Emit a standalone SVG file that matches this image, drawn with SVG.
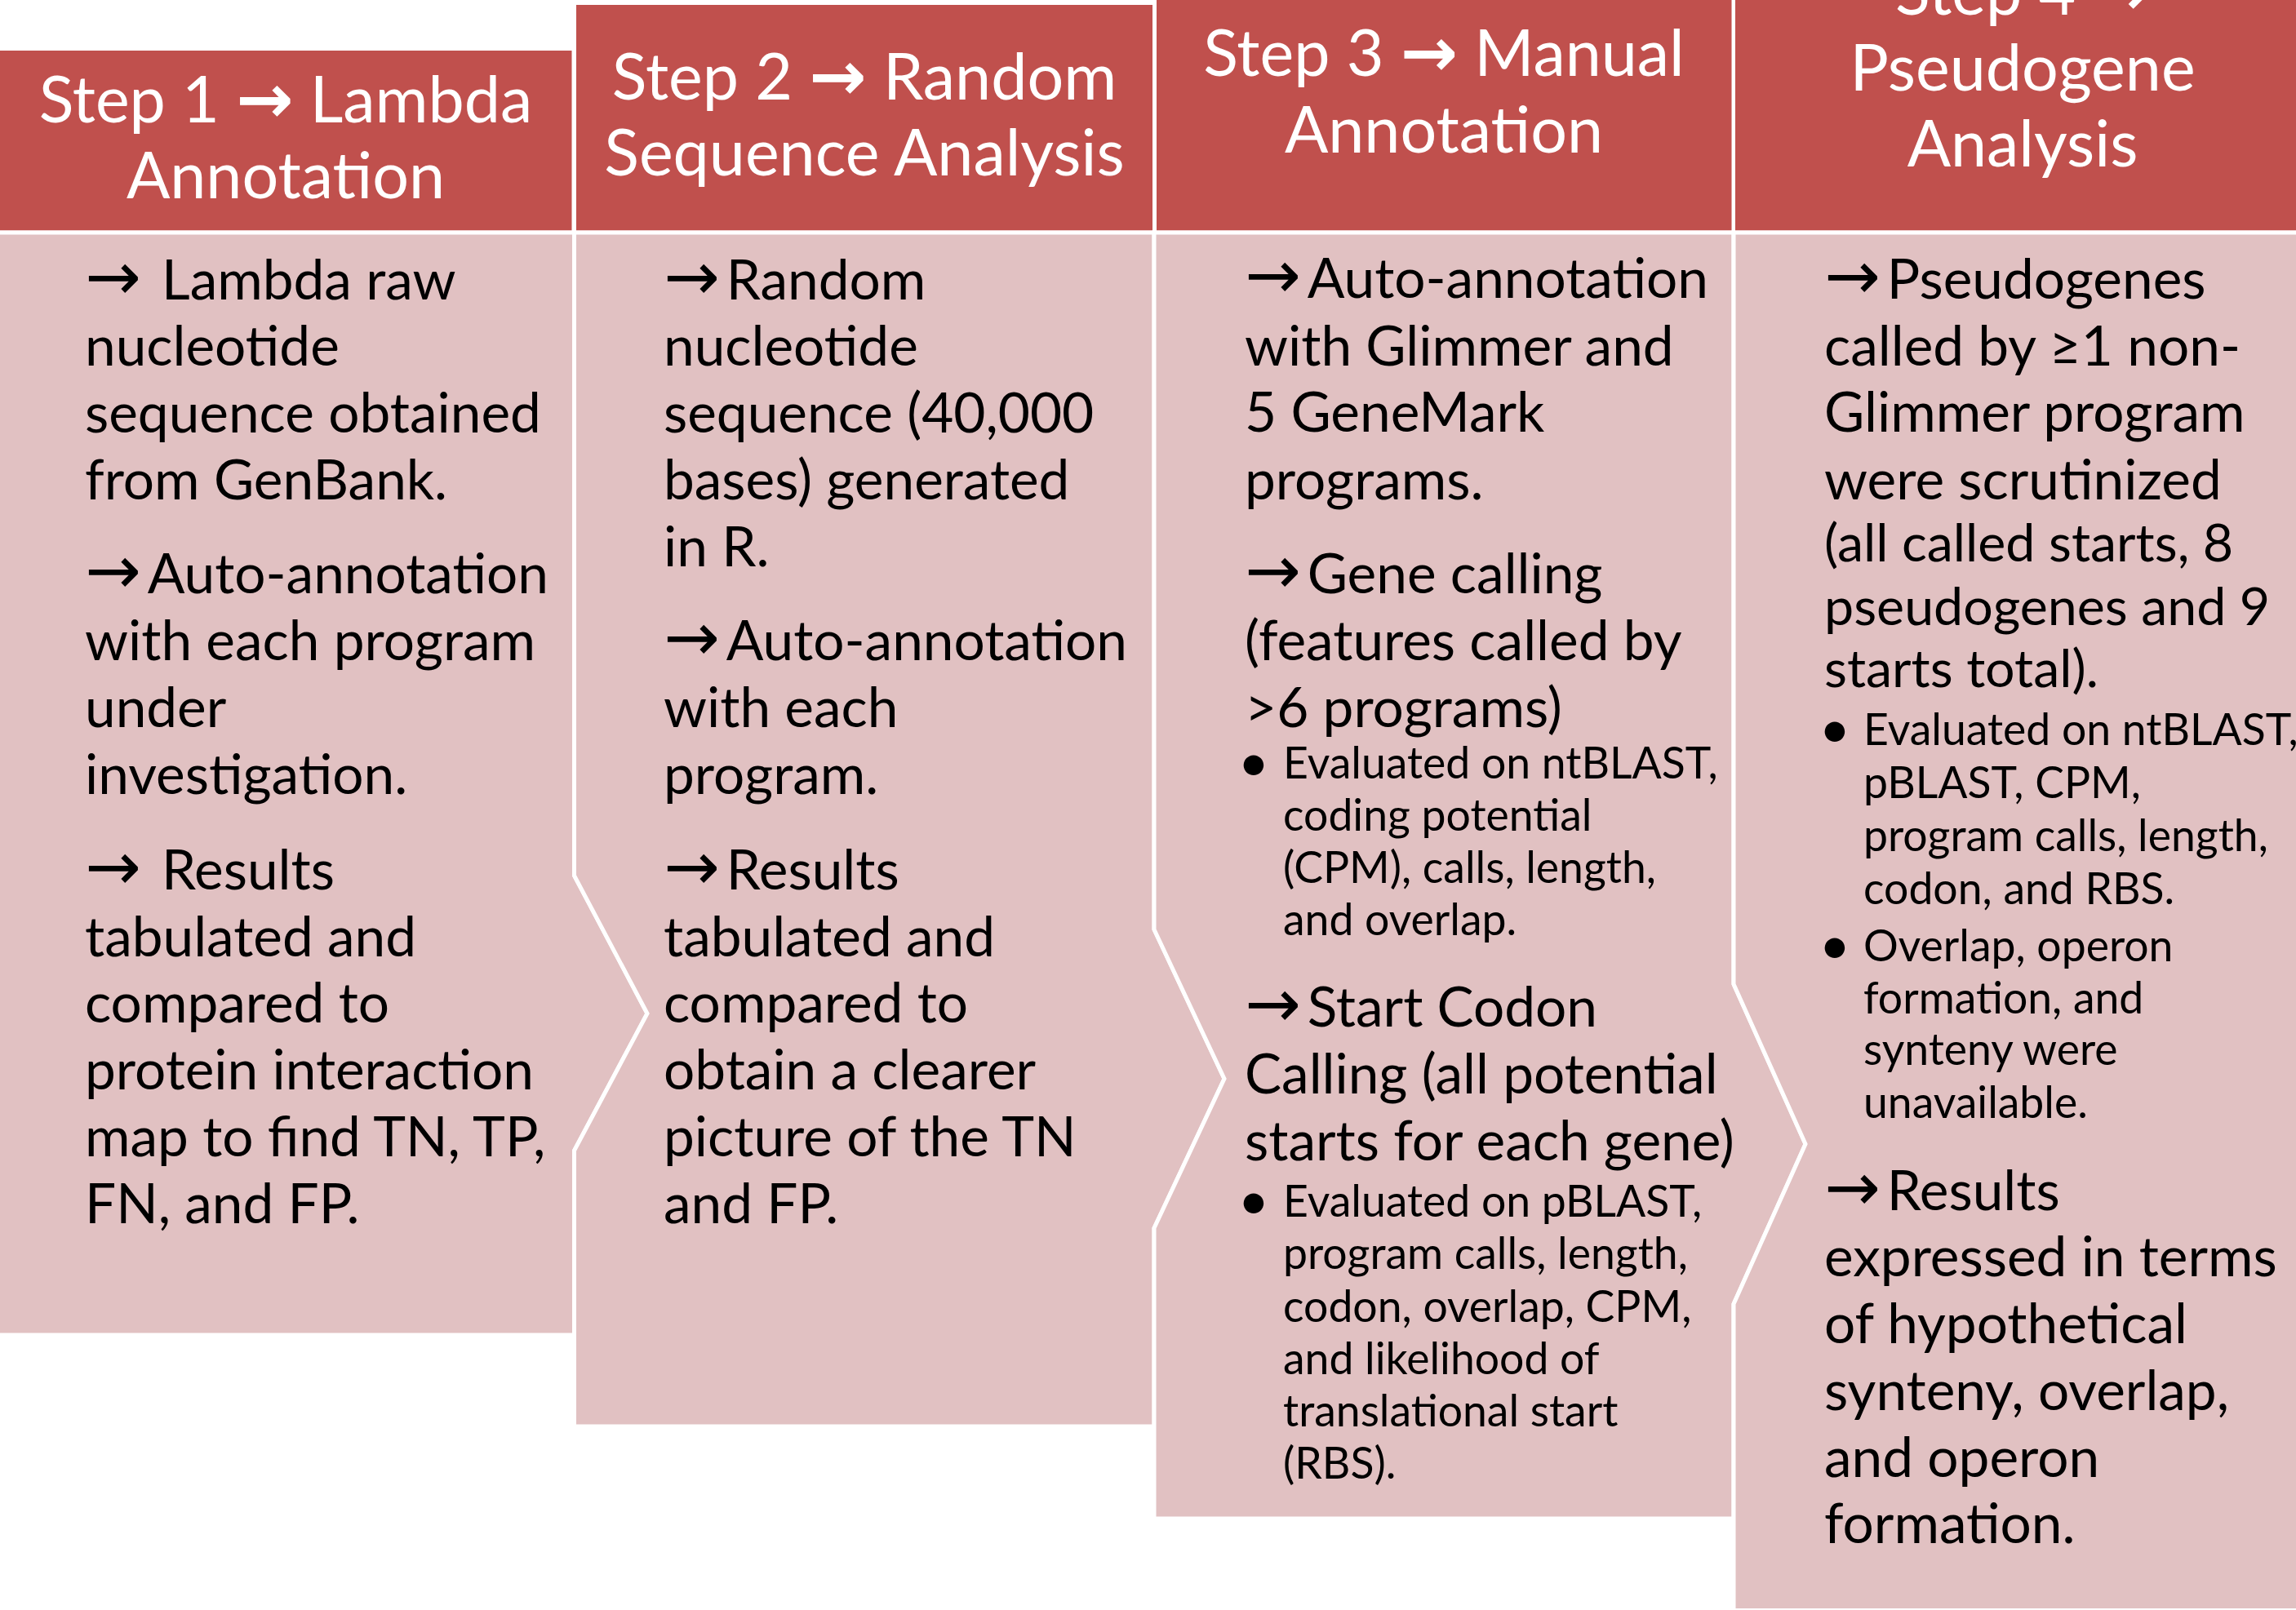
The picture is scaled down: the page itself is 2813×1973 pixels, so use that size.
<svg xmlns="http://www.w3.org/2000/svg" width="2813" height="1973" viewBox="0 0 2813 1973">
<style>
.hdr{fill:#C0504D}
.pan{fill:#E1C1C2;stroke:#FFFFFF;stroke-width:5;stroke-linejoin:miter}
.ht{font-family:Lato,'Liberation Sans',sans-serif;font-size:79px;fill:#FFFFFF;text-anchor:middle}
.ha{font-family:'DejaVu Sans',sans-serif;font-weight:bold;font-size:84px}
.t{font-family:Lato,'Liberation Sans',sans-serif;font-size:67.5px;fill:#000000}
.s{font-size:53.5px}
.m{font-size:64.5px}
.ar{font-family:'DejaVu Sans',sans-serif;font-size:82px;letter-spacing:8px}
.bu{font-family:Lato,'Liberation Sans',sans-serif;font-size:66px;fill:#000000;text-anchor:middle}
</style>
<rect width="2813" height="1973" fill="#FFFFFF"/>
<g id="connectors"></g>
<g id="step1">
<rect class="hdr" x="0" y="62" width="700.5" height="220.5"/>
<text class="ht" x="350" y="150">Step 1 <tspan class="ha">→</tspan> Lambda</text>
<text class="ht" x="350" y="243">Annotation</text>
<polygon class="pan" points="-10,285 703.5,285 703.5,1073 793,1242 703.5,1410 703.5,1636 -10,1636"/>
<text class="t" x="104" y="367"><tspan class="ar">→</tspan> Lambda raw</text>
<text class="t" x="104" y="448">nucleotide</text>
<text class="t" x="104" y="530">sequence obtained</text>
<text class="t" x="104" y="612">from GenBank.</text>
<text class="t" x="104" y="727"><tspan class="ar">→</tspan>Auto-annotation</text>
<text class="t" x="104" y="809">with each program</text>
<text class="t" x="104" y="891">under</text>
<text class="t" x="104" y="973">investigation.</text>
<text class="t" x="104" y="1090"><tspan class="ar">→</tspan> Results</text>
<text class="t" x="104" y="1172">tabulated and</text>
<text class="t" x="104" y="1253">compared to</text>
<text class="t" x="104" y="1335">protein interaction</text>
<text class="t" x="104" y="1417">map to find TN, TP,</text>
<text class="t" x="104" y="1499">FN, and FP.</text>
</g>
<g id="step2">
<rect class="hdr" x="706" y="6" width="706" height="276.5"/>
<text class="ht" x="1059" y="122">Step 2 <tspan class="ha">→</tspan> Random</text>
<text class="ht" x="1059" y="215">Sequence Analysis</text>
<polygon class="pan" points="703.5,285 1414,285 1414,1139 1500,1322 1414,1505 1414,1748 703.5,1748 703.5,1410 793,1242 703.5,1073"/>
<text class="t" x="813" y="367"><tspan class="ar">→</tspan>Random</text>
<text class="t" x="813" y="448">nucleotide</text>
<text class="t" x="813" y="530">sequence (40,000</text>
<text class="t" x="813" y="612">bases) generated</text>
<text class="t" x="813" y="694">in R.</text>
<text class="t" x="813" y="809"><tspan class="ar">→</tspan>Auto-annotation</text>
<text class="t" x="813" y="891">with each</text>
<text class="t" x="813" y="973">program.</text>
<text class="t" x="813" y="1090"><tspan class="ar">→</tspan>Results</text>
<text class="t" x="813" y="1172">tabulated and</text>
<text class="t" x="813" y="1253">compared to</text>
<text class="t" x="813" y="1335">obtain a clearer</text>
<text class="t" x="813" y="1417">picture of the TN</text>
<text class="t" x="813" y="1499">and FP.</text>
</g>
<g id="step3">
<rect class="hdr" x="1417" y="-5" width="704.5" height="287.5"/>
<text class="ht" x="1769" y="93">Step 3 <tspan class="ha">→</tspan> Manual</text>
<text class="ht" x="1769" y="187">Annotation</text>
<polygon class="pan" points="1414,285 2124,285 2124,1206 2212,1402 2124,1598 2124,1861 1414,1861 1414,1505 1500,1322 1414,1139"/>
<text class="t" x="1525" y="365"><tspan class="ar">→</tspan>Auto-annotation</text>
<text class="t" x="1525" y="448">with Glimmer and</text>
<text class="t" x="1525" y="529">5 GeneMark</text>
<text class="t" x="1525" y="612">programs.</text>
<text class="t" x="1525" y="727"><tspan class="ar">→</tspan>Gene calling</text>
<text class="t" x="1525" y="809">(features called by</text>
<text class="t" x="1525" y="891">&gt;6 programs)</text>
<text class="bu" x="1536" y="957">•</text>
<text class="t s" x="1572" y="954">Evaluated on ntBLAST,</text>
<text class="t s" x="1572" y="1018">coding potential</text>
<text class="t s" x="1572" y="1082">(CPM), calls, length,</text>
<text class="t s" x="1572" y="1146">and overlap.</text>
<text class="t" x="1525" y="1258"><tspan class="ar">→</tspan>Start Codon</text>
<text class="t" x="1525" y="1340">Calling (all potential</text>
<text class="t" x="1525" y="1422">starts for each gene)</text>
<text class="bu" x="1536" y="1494">•</text>
<text class="t s" x="1572" y="1491">Evaluated on pBLAST,</text>
<text class="t s" x="1572" y="1555">program calls, length,</text>
<text class="t s" x="1572" y="1620">codon, overlap, CPM,</text>
<text class="t s" x="1572" y="1684">and likelihood of</text>
<text class="t s" x="1572" y="1748">translational start</text>
<text class="t s" x="1572" y="1812">(RBS).</text>
</g>
<g id="step4">
<rect class="hdr" x="2126" y="-5" width="700" height="287.5"/>
<text class="ht" x="2478" y="18">Step 4 <tspan class="ha">→</tspan></text>
<text class="ht" x="2478" y="111">Pseudogene</text>
<text class="ht" x="2478" y="204">Analysis</text>
<polygon class="pan" points="2124,285 2840,285 2840,1973.5 2124,1973.5 2124,1598 2212,1402 2124,1206"/>
<text class="t" x="2235" y="366"><tspan class="ar">→</tspan>Pseudogenes</text>
<text class="t" x="2235" y="448">called by ≥1 non-</text>
<text class="t" x="2235" y="529">Glimmer program</text>
<text class="t" x="2235" y="612">were scrutinized</text>
<text class="t m" x="2235" y="688">(all called starts, 8</text>
<text class="t m" x="2235" y="766">pseudogenes and 9</text>
<text class="t m" x="2235" y="842">starts total).</text>
<text class="bu" x="2248" y="916">•</text>
<text class="t s" x="2283" y="913">Evaluated on ntBLAST,</text>
<text class="t s" x="2283" y="978">pBLAST, CPM,</text>
<text class="t s" x="2283" y="1043">program calls, length,</text>
<text class="t s" x="2283" y="1108">codon, and RBS.</text>
<text class="bu" x="2248" y="1181">•</text>
<text class="t s" x="2283" y="1178">Overlap, operon</text>
<text class="t s" x="2283" y="1242">formation, and</text>
<text class="t s" x="2283" y="1305">synteny were</text>
<text class="t s" x="2283" y="1370">unavailable.</text>
<text class="t" x="2235" y="1483"><tspan class="ar">→</tspan>Results</text>
<text class="t" x="2235" y="1564">expressed in terms</text>
<text class="t" x="2235" y="1646">of hypothetical</text>
<text class="t" x="2235" y="1728">synteny, overlap,</text>
<text class="t" x="2235" y="1810">and operon</text>
<text class="t" x="2235" y="1891">formation.</text>
</g>
</svg>
